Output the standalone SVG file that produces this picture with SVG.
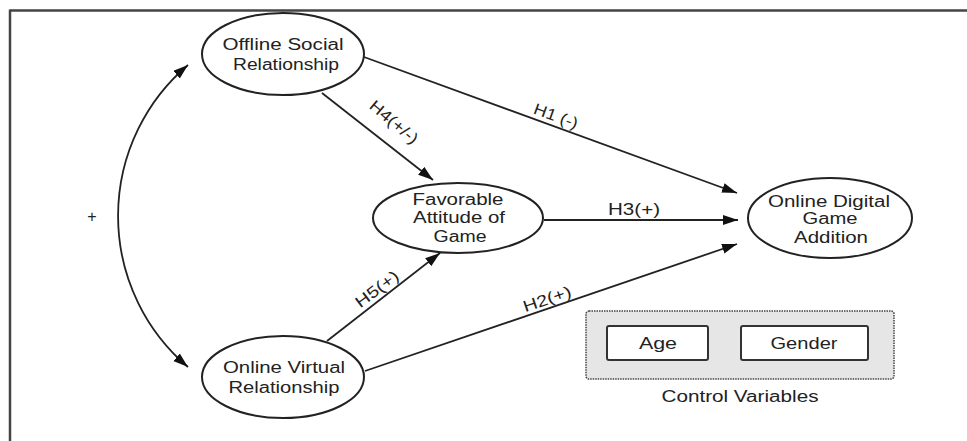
<svg xmlns="http://www.w3.org/2000/svg" width="967" height="441" viewBox="0 0 967 441">
<style>
text{font-family:"Liberation Sans",Arial,sans-serif;font-size:16px;fill:#222;text-anchor:middle}
.n ellipse{fill:#fff;stroke:#222;stroke-width:2}
.c line,.c path{stroke:#222;stroke-width:1.8;fill:none}
.frame{stroke:#444;stroke-width:2.5}
.box{fill:#fff;stroke:#333;stroke-width:2}
</style>
<defs>
<marker id="ah" markerUnits="userSpaceOnUse" markerWidth="16" markerHeight="11" refX="15" refY="5" orient="auto-start-reverse">
<path d="M0,0 L15,5 L0,10 z" fill="#111"/>
</marker>
</defs>
<rect width="967" height="441" fill="#fff"/>
<line class="frame" x1="10" y1="10.5" x2="967" y2="10.5"/>
<line class="frame" x1="10" y1="9.5" x2="10" y2="441"/>
<g class="c" id="connectors">
<path d="M188,65 A198,198 0 0 0 188,367" marker-start="url(#ah)" marker-end="url(#ah)"/>
<line x1="364" y1="57" x2="737" y2="193" marker-end="url(#ah)"/>
<line x1="322" y1="93" x2="433" y2="180" marker-end="url(#ah)"/>
<line x1="544" y1="220" x2="738" y2="220" marker-end="url(#ah)"/>
<line x1="365" y1="371" x2="737" y2="244" marker-end="url(#ah)"/>
<line x1="327" y1="341" x2="440" y2="253" marker-end="url(#ah)"/>
<text x="92" y="222">+</text>
<text transform="translate(556,116) rotate(20)" dominant-baseline="central" textLength="46" lengthAdjust="spacingAndGlyphs">H1 (-)</text>
<text transform="translate(394,122) rotate(40)" dominant-baseline="central" textLength="58" lengthAdjust="spacingAndGlyphs">H4(+/-)</text>
<text x="634" y="215" textLength="52" lengthAdjust="spacingAndGlyphs">H3(+)</text>
<text transform="translate(547,299) rotate(-19)" dominant-baseline="central" textLength="50" lengthAdjust="spacingAndGlyphs">H2(+)</text>
<text transform="translate(377,289) rotate(-37)" dominant-baseline="central" textLength="50" lengthAdjust="spacingAndGlyphs">H5(+)</text>
</g>
<g class="n" id="offline">
<ellipse cx="283" cy="54" rx="81" ry="41"/>
<text x="283" y="50" textLength="121" lengthAdjust="spacingAndGlyphs">Offline Social</text>
<text x="286" y="70" textLength="106" lengthAdjust="spacingAndGlyphs">Relationship</text>
</g>
<g class="n" id="favorable">
<ellipse cx="458" cy="218" rx="85" ry="35"/>
<text x="458" y="205" textLength="91" lengthAdjust="spacingAndGlyphs">Favorable</text>
<text x="459" y="223" textLength="92" lengthAdjust="spacingAndGlyphs">Attitude of</text>
<text x="460" y="242" textLength="53" lengthAdjust="spacingAndGlyphs">Game</text>
</g>
<g class="n" id="addiction">
<ellipse cx="830" cy="218" rx="82" ry="40"/>
<text x="829" y="207" textLength="122" lengthAdjust="spacingAndGlyphs">Online Digital</text>
<text x="830" y="224" textLength="55" lengthAdjust="spacingAndGlyphs">Game</text>
<text x="831" y="243" textLength="74" lengthAdjust="spacingAndGlyphs">Addition</text>
</g>
<g class="n" id="virtual">
<ellipse cx="283" cy="377" rx="81" ry="41"/>
<text x="284" y="373" textLength="122" lengthAdjust="spacingAndGlyphs">Online Virtual</text>
<text x="284" y="393" textLength="111" lengthAdjust="spacingAndGlyphs">Relationship</text>
</g>
<g id="controls">
<rect x="586" y="311" width="308" height="68" rx="3" fill="#e6e6e6" stroke="#444" stroke-width="1.5" stroke-dasharray="1.5,1"/>
<rect class="box" x="607" y="326" width="101" height="34" rx="2"/>
<text x="658" y="349" textLength="38" lengthAdjust="spacingAndGlyphs">Age</text>
<rect class="box" x="741" y="326" width="127" height="34" rx="2"/>
<text x="804" y="349" textLength="67" lengthAdjust="spacingAndGlyphs">Gender</text>
<text x="740" y="402" textLength="157" lengthAdjust="spacingAndGlyphs">Control Variables</text>
</g>
</svg>
